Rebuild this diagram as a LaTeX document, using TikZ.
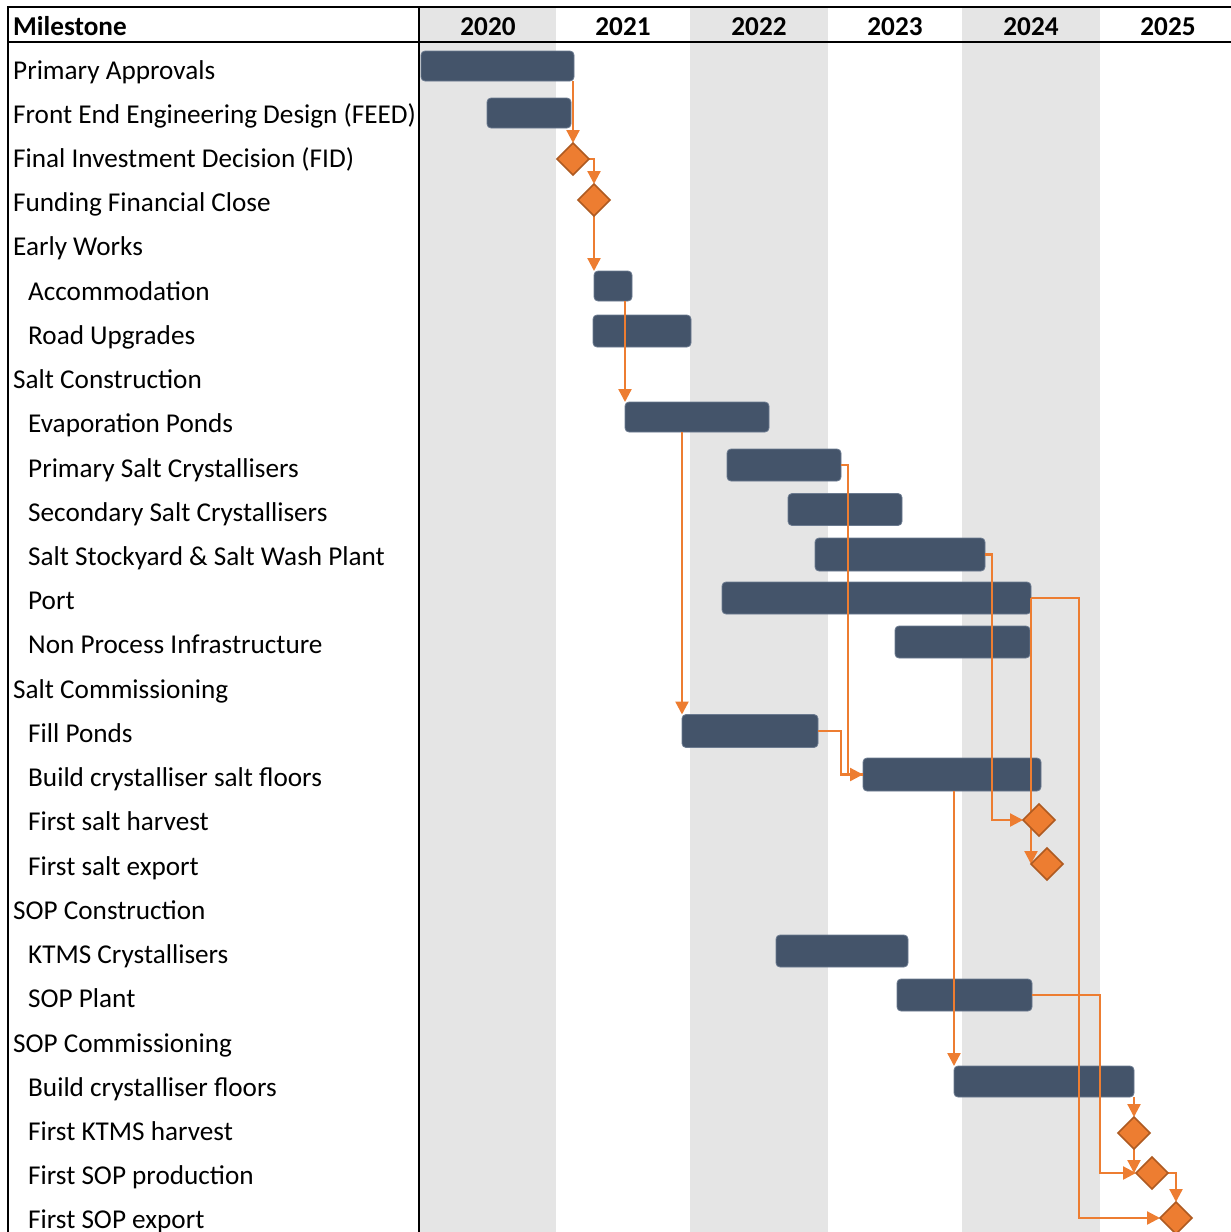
\documentclass[tikz,border=0pt]{standalone}
\usepackage{fontspec}
\setmainfont{Carlito}
\usetikzlibrary{shapes.geometric,arrows.meta,calc}
\definecolor{band}{HTML}{E5E5E5}
\definecolor{barfill}{HTML}{44546A}
\definecolor{barline}{HTML}{6B7A8F}
\definecolor{orng}{HTML}{ED7D31}
\definecolor{orngdk}{HTML}{AE5A21}
\tikzset{
  lab/.style={anchor=base west, inner sep=0pt, font=\fontsize{27.2}{32}\selectfont},
  hdr/.style={anchor=base, inner sep=0pt, font=\fontsize{27.2}{32}\selectfont\bfseries},
  gbar/.style={rectangle, rounded corners=4pt, fill=barfill, draw=barline, line width=0.8pt, inner sep=0pt, outer sep=0pt},
  mstone/.style={diamond, aspect=1, minimum width=32pt, minimum height=32pt, inner sep=0pt, outer sep=0pt, fill=orng, draw=orngdk, line width=1.5pt},
  conn/.style={draw=orng, line width=2.3pt, -{Triangle[length=13pt,width=13pt]}},
  connplain/.style={draw=orng, line width=2.3pt},
  frame/.style={draw=black, line width=2pt}
}
\begin{document}
\begin{tikzpicture}[x=1pt,y=-1pt]
\useasboundingbox (0,0) rectangle (1231,1232);
\fill[white] (0,0) rectangle (1231,1232);
% year bands
\fill[band] (420,7) rectangle (556,1232);
\fill[band] (690,7) rectangle (828,1232);
\fill[band] (962,7) rectangle (1100,1232);
% frame
\draw[frame] (8,1232) -- (8,7) -- (1231,7);
\draw[frame] (8,42) -- (1231,42);
\draw[frame] (419,7) -- (419,1232);
% header
\node[lab, font=\fontsize{27.2}{32}\selectfont\bfseries] (hm) at (13,35) {Milestone};
\node[hdr] (y20) at (488,35) {2020};
\node[hdr] (y21) at (623,35) {2021};
\node[hdr] (y22) at (759,35) {2022};
\node[hdr] (y23) at (895,35) {2023};
\node[hdr] (y24) at (1031,35) {2024};
\node[hdr] (y25) at (1168,35) {2025};
% labels
\foreach \t/\ind [count=\i] in {
  Primary Approvals/13,
  Front End Engineering Design (FEED)/13,
  Final Investment Decision (FID)/13,
  Funding Financial Close/13,
  Early Works/13,
  Accommodation/28,
  Road Upgrades/28,
  Salt Construction/13,
  Evaporation Ponds/28,
  Primary Salt Crystallisers/28,
  Secondary Salt Crystallisers/28,
  Salt Stockyard \& Salt Wash Plant/28,
  Port/28,
  Non Process Infrastructure/28,
  Salt Commissioning/13,
  Fill Ponds/28,
  Build crystalliser salt floors/28,
  First salt harvest/28,
  First salt export/28,
  SOP Construction/13,
  KTMS Crystallisers/28,
  SOP Plant/28,
  SOP Commissioning/13,
  Build crystalliser floors/28,
  First KTMS harvest/28,
  First SOP production/28,
  First SOP export/28}
  { \node[lab] (l\i) at ({\ind},{79+44.23*(\i-1)}) {\t}; }
% bars
\node[gbar, minimum width=153pt, minimum height=30pt] (pa)   at (497.5,66) {};
\node[gbar, minimum width=84pt,  minimum height=30pt] (feed) at (529,113) {};
\node[gbar, minimum width=38pt,  minimum height=30pt] (acc)  at (613,286) {};
\node[gbar, minimum width=98pt,  minimum height=32pt] (road) at (642,331) {};
\node[gbar, minimum width=144pt, minimum height=30pt] (evap) at (697,417) {};
\node[gbar, minimum width=114pt, minimum height=32pt] (psc)  at (784,465) {};
\node[gbar, minimum width=114pt, minimum height=32pt] (ssc)  at (845,509.5) {};
\node[gbar, minimum width=170pt, minimum height=33pt] (stock) at (900,554.5) {};
\node[gbar, minimum width=309pt, minimum height=32pt] (port) at (876.5,598) {};
\node[gbar, minimum width=135pt, minimum height=32pt] (npi)  at (962.5,642) {};
\node[gbar, minimum width=136pt, minimum height=33pt] (fill) at (750,731) {};
\node[gbar, minimum width=178pt, minimum height=33pt] (bcsf) at (952,774.5) {};
\node[gbar, minimum width=132pt, minimum height=32pt] (ktms) at (842,951) {};
\node[gbar, minimum width=135pt, minimum height=32pt] (sop)  at (964.5,995) {};
\node[gbar, minimum width=180pt, minimum height=31pt] (bcf)  at (1044,1081.5) {};
% milestone positions
\coordinate (fidc) at (573,159);
\coordinate (ffcc) at (594,200);
\coordinate (fshc) at (1039,820);
\coordinate (fsec) at (1047,864);
\coordinate (fkhc) at (1134,1133);
\coordinate (fspc) at (1152,1173);
\coordinate (fsxc) at (1176,1218);
% connectors (drawn before milestones)
\draw[conn] (pa.south -| fidc) -- ($(fidc)+(0,-16)$);
\draw[conn] ($(fidc)+(16,0)$) -| ($(ffcc)+(0,-16)$);
\draw[conn] ($(ffcc)+(0,16)$) -- (acc.north west);
\draw[conn] (acc.south -| evap.north west) -- (evap.north west);
\draw[conn] (evap.south -| fill.north west) -- (fill.north west);
\draw[connplain] (psc.east) -- ++(7,0) |- (bcsf.west);
\draw[conn] (fill.east) -- ++(23,0) |- (bcsf.west);
\draw[conn] (stock.east) -- ++(7,0) |- ($(fshc)+(-16,0)$);
\draw[conn] (port.east) -- ($(fsec)+(-16,0)$);
\draw[conn] (port.east) -- ++(48,0) |- ($(fsxc)+(-16,0)$);
\draw[conn] (bcsf.south -| bcf.north west) -- (bcf.north west);
\draw[conn] (sop.east) -- ++(68,0) |- ($(fspc)+(-16,0)$);
\draw[conn] (bcf.south east) -- ($(fkhc)+(0,-16)$);
\draw[conn] ($(fkhc)+(0,16)$) -- ($(fkhc)+(0,40)$);
\draw[conn] ($(fspc)+(16,0)$) -| ($(fsxc)+(0,-16)$);
% milestones
\node[mstone] (fid) at (fidc) {};
\node[mstone] (ffc) at (ffcc) {};
\node[mstone] (fsh) at (fshc) {};
\node[mstone] (fse) at (fsec) {};
\node[mstone] (fkh) at (fkhc) {};
\node[mstone] (fsp) at (fspc) {};
\node[mstone] (fsx) at (fsxc) {};
\end{tikzpicture}
\end{document}
